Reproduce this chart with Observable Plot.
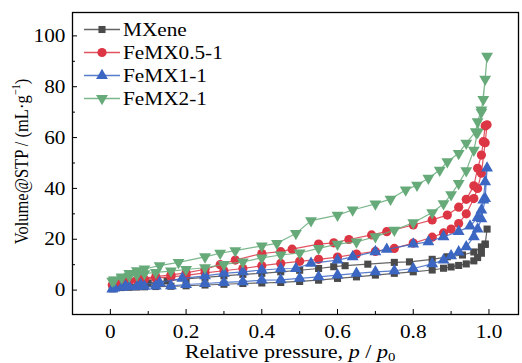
<!DOCTYPE html>
<html>
<head>
<meta charset="utf-8">
<script src="https://cdn.jsdelivr.net/npm/d3@7"></script>
<script src="https://cdn.jsdelivr.net/npm/@observablehq/plot@0.6"></script>
<style>
  html, body { margin: 0; padding: 0; background: #fff; }
  #chart svg { display: block; }
</style>
</head>
<body>
<div id="chart"></div>
<script>
// ---------- data ----------
const seriesNames = ["MXene", "FeMX0.5-1", "FeMX1-1", "FeMX2-1"];
const seriesColors = ["#4a4a4a", "#dc3544", "#3b66c2", "#66aa79"];

const xTicks = [0, 0.2, 0.4, 0.6, 0.8, 1.0];
const xMinorTicks = [0.1, 0.3, 0.5, 0.7, 0.9];
const yTicks = [0, 20, 40, 60, 80, 100];
const yMinorTicks = [10, 30, 50, 70, 90];

// adsorption branch (common relative-pressure points)
const adsP = [0.005,0.01,0.03,0.05,0.07,0.09,0.12,0.16,0.20,0.25,0.30,0.35,0.40,0.45,0.50,0.55,0.60,0.65,0.70,0.75,0.80,0.85,0.88,0.90,0.92,0.94,0.96,0.97,0.98,0.99,0.995];
const mxAdsV   = [0.5,0.8,1.0,1.1,1.2,1.3,1.4,1.5,1.7,2.0,2.3,2.6,2.8,3.0,3.4,3.9,4.6,5.2,5.9,6.6,7.2,7.9,8.6,9.1,9.7,10.3,11.5,12.8,14.5,18.0,24.0];
const fe05AdsV = [2.0,2.5,3.2,3.6,4.0,4.3,4.7,5.2,5.8,6.8,7.6,8.5,9.6,10.5,11.3,12.1,13.0,14.2,15.2,16.4,18.5,20.8,22.5,24.0,26.2,30.0,36.0,40.0,46.0,58.0,65.0];
const fe1AdsV  = [0.4,0.8,1.1,1.3,1.4,1.5,1.6,1.7,2.2,2.6,3.0,3.3,3.9,4.0,4.6,5.2,5.9,6.6,7.2,7.6,8.5,10.3,11.8,13.5,15.0,17.0,21.0,24.0,28.0,36.0,48.0];
const fe2AdsV  = [3.5,4.0,4.8,5.5,6.0,6.5,7.0,7.5,8.1,8.8,10.1,11.1,12.7,13.8,14.6,16.4,18.1,19.0,21.0,23.6,26.5,30.5,34.0,37.5,42.0,47.0,55.0,62.0,70.0,83.0,92.0];

// desorption branch
const mxDesP = [0.99,0.98,0.96,0.93,0.89,0.85,0.79,0.75,0.68,0.62,0.59,0.55,0.50,0.45,0.40,0.35,0.30,0.25,0.20,0.15,0.10,0.05,0.01];
const mxDesV = [18.1,17.0,15.0,13.8,13.1,12.1,11.1,10.9,10.2,9.6,9.2,8.5,7.8,7.2,6.6,6.2,5.6,5.0,4.4,3.6,2.8,1.8,1.0];

const fe05DesP = [0.99,0.985,0.98,0.97,0.96,0.94,0.92,0.89,0.85,0.80,0.73,0.69,0.63,0.59,0.55,0.48,0.45,0.40,0.33,0.29,0.25,0.20,0.16,0.12,0.08,0.04,0.01];
const fe05DesV = [64.6,58.4,53.1,47.9,41.0,35.7,32.6,29.5,27.6,25.6,23.0,21.7,19.9,18.6,18.1,16.1,15.1,14.4,11.8,10.0,8.2,6.8,6.0,5.3,4.5,3.8,2.8];

const fe1DesP = [0.99,0.985,0.98,0.97,0.95,0.92,0.88,0.84,0.80,0.73,0.70,0.64,0.60,0.53,0.49,0.45,0.40,0.35,0.30,0.25,0.19,0.13,0.08,0.04,0.01];
const fe1DesV = [42.6,35.4,31.5,28.5,25.2,23.0,21.0,19.0,18.1,16.0,15.1,13.1,11.8,10.5,8.5,8.4,7.9,7.2,6.6,5.6,4.6,3.0,2.2,1.6,1.0];

const fe2DesP = [0.985,0.98,0.97,0.965,0.94,0.92,0.89,0.87,0.84,0.81,0.78,0.74,0.70,0.64,0.60,0.53,0.49,0.44,0.40,0.33,0.29,0.25,0.18,0.13,0.09,0.07,0.05,0.03,0.01];
const fe2DesV = [75.0,70.9,66.3,62.3,57.8,53.8,50.5,47.2,44.0,41.3,39.4,35.8,33.9,31.5,29.5,27.3,22.3,18.4,17.4,15.5,14.5,13.1,10.9,9.6,8.3,7.6,6.6,5.2,3.9];

// ---------- build table ----------
const triangleDown = {
  draw(context, size) {
    const s3 = Math.sqrt(3);
    const y = -Math.sqrt(size / (s3 * 3));
    context.moveTo(0, -y * 2);
    context.lineTo(-s3 * y, y);
    context.lineTo(s3 * y, y);
    context.closePath();
  }
};
const seriesSpec = [
  {adsV: mxAdsV,   desP: mxDesP,   desV: mxDesV,   symbol: "square",   r: 4.0},
  {adsV: fe05AdsV, desP: fe05DesP, desV: fe05DesV, symbol: "circle",   r: 4.6},
  {adsV: fe1AdsV,  desP: fe1DesP,  desV: fe1DesV,  symbol: "triangle", r: 4.4},
  {adsV: fe2AdsV,  desP: fe2DesP,  desV: fe2DesV,  symbol: triangleDown, r: 4.4}
];
const tables = seriesSpec.map((s, k) => {
  const rows = [];
  adsP.forEach((p, i) => rows.push({name: seriesNames[k], p, v: s.adsV[i]}));
  s.desP.forEach((p, i) => rows.push({name: seriesNames[k], p, v: s.desV[i]}));
  return rows;
});

// ---------- layout ----------
const W = 522, H = 363;
const mL = 72, mR = 4, mT = 12, mB = 49;
const plotW = W - mL - mR, plotH = H - mT - mB;
const FONT = "Liberation Serif, Times New Roman, serif";

const marks = [];
tables.forEach((rows, k) => {
  marks.push(Plot.line(rows, {x: "p", y: "v", stroke: seriesColors[k], strokeWidth: 1.2, strokeOpacity: 0.85, curve: "linear"}));
  marks.push(Plot.dot(rows, {x: "p", y: "v", symbol: seriesSpec[k].symbol, r: seriesSpec[k].r, fill: seriesColors[k], stroke: "none"}));
});

const chart = Plot.plot({
  width: W, height: H,
  marginLeft: mL, marginRight: mR, marginTop: mT, marginBottom: mB,
  style: {fontFamily: FONT, fontSize: "19px", background: "#fff", color: "#000", overflow: "visible"},
  x: {domain: [-0.1, 1.078]},
  y: {domain: [-9.6, 109.2]},
  marks: [
    ...marks,
    Plot.ruleX(xTicks, {x: d => d, insetTop: plotH - 5, stroke: "#000", strokeWidth: 1}),
    Plot.ruleX(xMinorTicks, {x: d => d, insetTop: plotH - 3, stroke: "#000", strokeWidth: 1}),
    Plot.ruleY(yTicks, {y: d => d, insetRight: plotW - 5, stroke: "#000", strokeWidth: 1}),
    Plot.ruleY(yMinorTicks, {y: d => d, insetRight: plotW - 3, stroke: "#000", strokeWidth: 1}),
    Plot.axisX({ticks: xTicks, tickSize: 0, tickPadding: 10, label: null, fontSize: 19,
                tickFormat: d => d === 0 ? "0" : d.toFixed(1)}),
    Plot.axisY({ticks: yTicks, tickSize: 0, tickPadding: 7, label: null, fontSize: 19,
                tickFormat: d => String(d)}),
    Plot.frame({stroke: "#000", strokeWidth: 1.3})
  ]
});
document.getElementById("chart").appendChild(chart);

// stretch tick labels horizontally like the reference
const svg = d3.select(chart);
svg.selectAll('g[aria-label="x-axis tick label"] text, g[aria-label="y-axis tick label"] text')
  .each(function() {
    const t = this.getAttribute("transform") || "";
    this.setAttribute("transform", t + " scale(1.12,1)");
  });

// ---------- axis titles ----------
const xt = svg.append("text")
  .attr("transform", "translate(290,358) scale(1.23,1)")
  .attr("text-anchor", "middle")
  .attr("font-family", FONT).attr("font-size", 18)
  .attr("fill", "#000");
xt.append("tspan").text("Relative pressure, ");
xt.append("tspan").attr("font-style", "italic").text("p");
xt.append("tspan").text(" / ");
xt.append("tspan").attr("font-style", "italic").text("p");
xt.append("tspan").attr("font-size", 12).attr("dy", 3).text("0");

const yt = svg.append("text")
  .attr("transform", "translate(28,161.5) rotate(-90) scale(1,1.2)")
  .attr("text-anchor", "middle")
  .attr("font-family", FONT).attr("font-size", 16.5)
  .attr("fill", "#000");
yt.append("tspan").text("Volume@STP / (mL·g");
yt.append("tspan").attr("font-size", 10.5).attr("dy", -7).text("−1");
yt.append("tspan").attr("dy", 7).text(")");

// ---------- legend ----------
const legendSymbols = [d3.symbolSquare, d3.symbolCircle, d3.symbolTriangle, triangleDown];
const leg = svg.append("g");
seriesNames.forEach((name, i) => {
  const y = 29.5 + i * 23;
  leg.append("line").attr("x1", 84).attr("x2", 120).attr("y1", y).attr("y2", y)
    .attr("stroke", seriesColors[i]).attr("stroke-width", 1.5).attr("stroke-opacity", 0.85);
  const r = seriesSpec[i].r;
  leg.append("path")
    .attr("transform", `translate(102,${y})`)
    .attr("d", d3.symbol(legendSymbols[i], Math.PI * r * r)())
    .attr("fill", seriesColors[i]);
  leg.append("text")
    .attr("transform", `translate(123,${y}) scale(1.12,1)`)
    .attr("dy", "0.35em")
    .attr("text-anchor", "start")
    .attr("font-family", FONT).attr("font-size", 19).attr("fill", "#000")
    .text(name);
});
</script>
</body>
</html>
